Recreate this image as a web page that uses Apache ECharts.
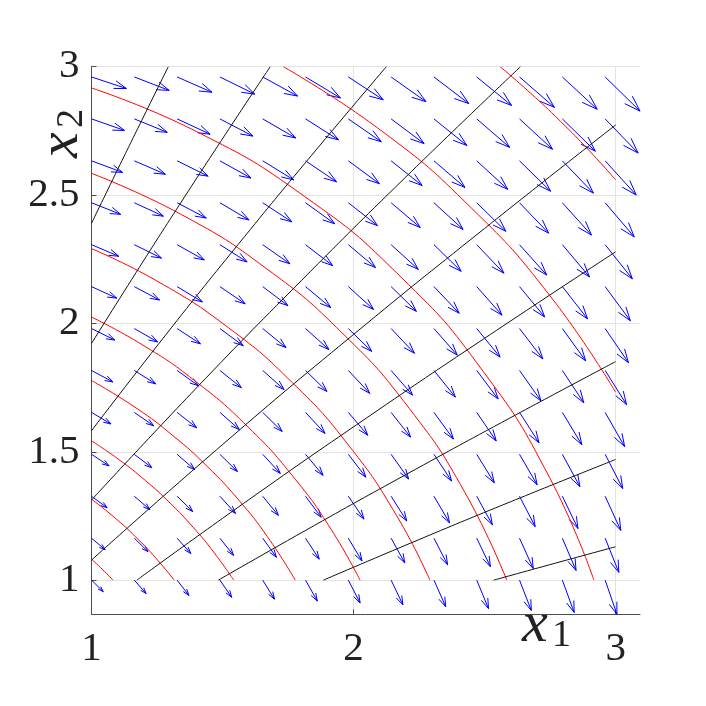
<!DOCTYPE html>
<html>
<head>
<meta charset="utf-8">
<script src="https://cdn.jsdelivr.net/npm/echarts@6/dist/echarts.min.js"></script>
<style>
  html, body { margin: 0; padding: 0; background: #ffffff; }
  #chart { width: 706px; height: 706px; }
</style>
</head>
<body>
<div id="chart"></div>
<script>
// ---- data ----
// quiver grid (tails of the arrows)
const gridX = [1, 1.1633, 1.3267, 1.49, 1.6533, 1.8167, 1.98, 2.1433, 2.3067, 2.47, 2.6333, 2.7967, 2.96];
const gridY = [1, 1.1633, 1.3267, 1.49, 1.6533, 1.8167, 1.98, 2.1433, 2.3067, 2.47, 2.6333, 2.7967, 2.96];
// horizontal arrow component for each row, vertical component for each column
const arrowUByRow = [0.045, 0.0523, 0.0597, 0.0671, 0.0744, 0.0818, 0.0891, 0.0964, 0.1038, 0.1112, 0.1185, 0.1259, 0.1332];
const arrowVByCol = [-0.045, -0.0523, -0.0597, -0.0671, -0.0744, -0.0818, -0.0891, -0.0964, -0.1038, -0.1112, -0.1185, -0.1259, -0.1332];

// red level curves (points along each curve)
const redCurves = [
  [[1, 1.0817], [1.0417, 1.0417], [1.0817, 1]],
  [[1, 1.3153], [1.0862, 1.2452], [1.1684, 1.1684], [1.2452, 1.0862], [1.3153, 1]],
  [[1, 1.5427], [1.1064, 1.4683], [1.2062, 1.3875], [1.3, 1.3], [1.3875, 1.2062], [1.4683, 1.1064], [1.5427, 1]],
  [[1, 1.7776], [1.1699, 1.6708], [1.3111, 1.5623], [1.4422, 1.4422], [1.5623, 1.3111], [1.6708, 1.1699], [1.7776, 1]],
  [[1, 2.0248], [1.1967, 1.915], [1.3904, 1.7795], [1.5969, 1.5969], [1.7795, 1.3904], [1.915, 1.1967], [2.0248, 1]],
  [[1, 2.2913], [1.25, 2.165], [1.522, 1.9835], [1.7678, 1.7678], [1.9835, 1.522], [2.165, 1.25], [2.2913, 1]],
  [[1, 2.5846], [1.3435, 2.4238], [1.6678, 2.2132], [1.9596, 1.9596], [2.2132, 1.6678], [2.4238, 1.3435], [2.5846, 1]],
  [[1, 2.9172], [1.4, 2.7477], [1.8127, 2.4948], [2.1806, 2.1806], [2.4948, 1.8127], [2.7477, 1.4], [2.9172, 1]],
  [[1.7321, 3], [2.1089, 2.7484], [2.4495, 2.4495], [2.7484, 2.1089], [3, 1.7321]],
  [[2.5593, 3], [2.6743, 2.898], [2.7884, 2.7884], [2.898, 2.6743], [3, 2.5593]]
];

// black transversal curves (points along each curve)
const blackCurves = [
  [[1, 2.39], [1.1, 2.6], [1.2, 2.808], [1.293, 3]],
  [[1, 1.922], [1.17, 2.198], [1.34, 2.469], [1.51, 2.735], [1.682, 3]],
  [[1, 1.582], [1.28, 1.951], [1.56, 2.308], [1.84, 2.655], [2.125, 3]],
  [[1, 1.312], [1.4, 1.748], [1.8, 2.166], [2.2, 2.571], [2.637, 3]],
  [[1, 1.078], [1.5, 1.528], [2, 1.957], [2.5, 2.37], [3, 2.773]],
  [[1.173, 1], [1.6, 1.313], [2.05, 1.632], [2.5, 1.942], [3, 2.279]],
  [[1.484, 1], [1.85, 1.2127], [2.2, 1.4112], [2.6, 1.6333], [3, 1.8512]],
  [[1.885, 1], [2.25, 1.158], [2.6, 1.3056], [3, 1.47]],
  [[2.535, 1], [2.77, 1.066], [3, 1.13]]
];

// axes
const xRange = [1, 3.093];
const yRange = [0.8668, 3];
const xTickValues = [1, 2, 3];
const yTickValues = [1, 1.5, 2, 2.5, 3];

// ---- build ----
const quiverData = [];
for (let j = 0; j < gridY.length; j++) {
  for (let i = 0; i < gridX.length; i++) {
    quiverData.push([gridX[i], gridY[j], arrowUByRow[j], arrowVByCol[i]]);
  }
}

const serif = "Liberation Serif";
const axisColor = '#4d4d4d';
const gridColor = '#e3e3e3';
const textColor = '#222222';

const series = [];
series.push({
  type: 'custom',
  name: 'field',
  coordinateSystem: 'cartesian2d',
  data: quiverData,
  encode: { x: 0, y: 1 },
  clip: false,
  silent: true,
  z: 2,
  renderItem: function (params, api) {
    const x = api.value(0), y = api.value(1), u = api.value(2), v = api.value(3);
    const a = 0.33, b = 0.33;
    const tx = x + u, ty = y + v;
    const h1 = [tx - a * (u + b * v), ty - a * (v - b * u)];
    const h2 = [tx - a * (u - b * v), ty - a * (v + b * u)];
    const p0 = api.coord([x, y]);
    const p1 = api.coord([tx, ty]);
    const q1 = api.coord(h1);
    const q2 = api.coord(h2);
    const st = { stroke: '#0000ff', lineWidth: 1, fill: null };
    return {
      type: 'group',
      children: [
        { type: 'line', shape: { x1: p0[0], y1: p0[1], x2: p1[0], y2: p1[1] }, style: st },
        { type: 'polyline', shape: { points: [q1, p1, q2] }, style: st }
      ]
    };
  }
});

redCurves.forEach(function (c, k) {
  series.push({
    type: 'line', name: 'red' + k, data: c, smooth: true, showSymbol: false, symbol: 'none',
    lineStyle: { color: '#ff0000', width: 1 }, silent: true, z: 3, animation: false
  });
});
blackCurves.forEach(function (c, k) {
  series.push({
    type: 'line', name: 'black' + k, data: c, smooth: true, showSymbol: false, symbol: 'none',
    lineStyle: { color: '#111111', width: 1 }, silent: true, z: 4, animation: false
  });
});

function labelText(main, sub) {
  return [
    { type: 'text', x: 0, y: 0, style: { text: main, font: 'italic 58px "Liberation Serif"', fill: textColor, verticalAlign: 'middle', align: 'left' } },
    { type: 'text', x: 30, y: 10, style: { text: sub, font: '38px "Liberation Serif"', fill: textColor, verticalAlign: 'middle', align: 'left' } }
  ];
}

const chart = echarts.init(document.getElementById('chart'), null, { renderer: 'canvas' });
chart.setOption({
  animation: false,
  backgroundColor: '#ffffff',
  grid: { left: 91.5, top: 66.7, right: 66, bottom: 91.7, containLabel: false },
  xAxis: {
    type: 'value', min: xRange[0], max: xRange[1],
    axisLine: { show: true, onZero: false, lineStyle: { color: axisColor, width: 1 } },
    axisTick: { show: true, inside: true, length: 5, customValues: xTickValues, lineStyle: { color: axisColor } },
    axisLabel: { customValues: xTickValues, margin: 14, fontSize: 41, fontFamily: serif, color: textColor,
                 formatter: function (v) { return String(v); } },
    splitLine: { show: true, lineStyle: { color: gridColor, width: 1 } }
  },
  yAxis: {
    type: 'value', min: yRange[0], max: yRange[1],
    axisLine: { show: true, onZero: false, lineStyle: { color: axisColor, width: 1 } },
    axisTick: { show: true, inside: true, length: 5, customValues: yTickValues, lineStyle: { color: axisColor } },
    axisLabel: { customValues: yTickValues, margin: 12, fontSize: 41, fontFamily: serif, color: textColor,
                 formatter: function (v) { return String(v); } },
    splitLine: { show: true, lineStyle: { color: gridColor, width: 1 } }
  },
  graphic: [
    { type: 'group', x: 522, y: 626, children: labelText('x', '1') },
    { type: 'group', x: 62, y: 158, rotation: Math.PI / 2, children: labelText('x', '2') }
  ],
  series: series
});
</script>
</body>
</html>
